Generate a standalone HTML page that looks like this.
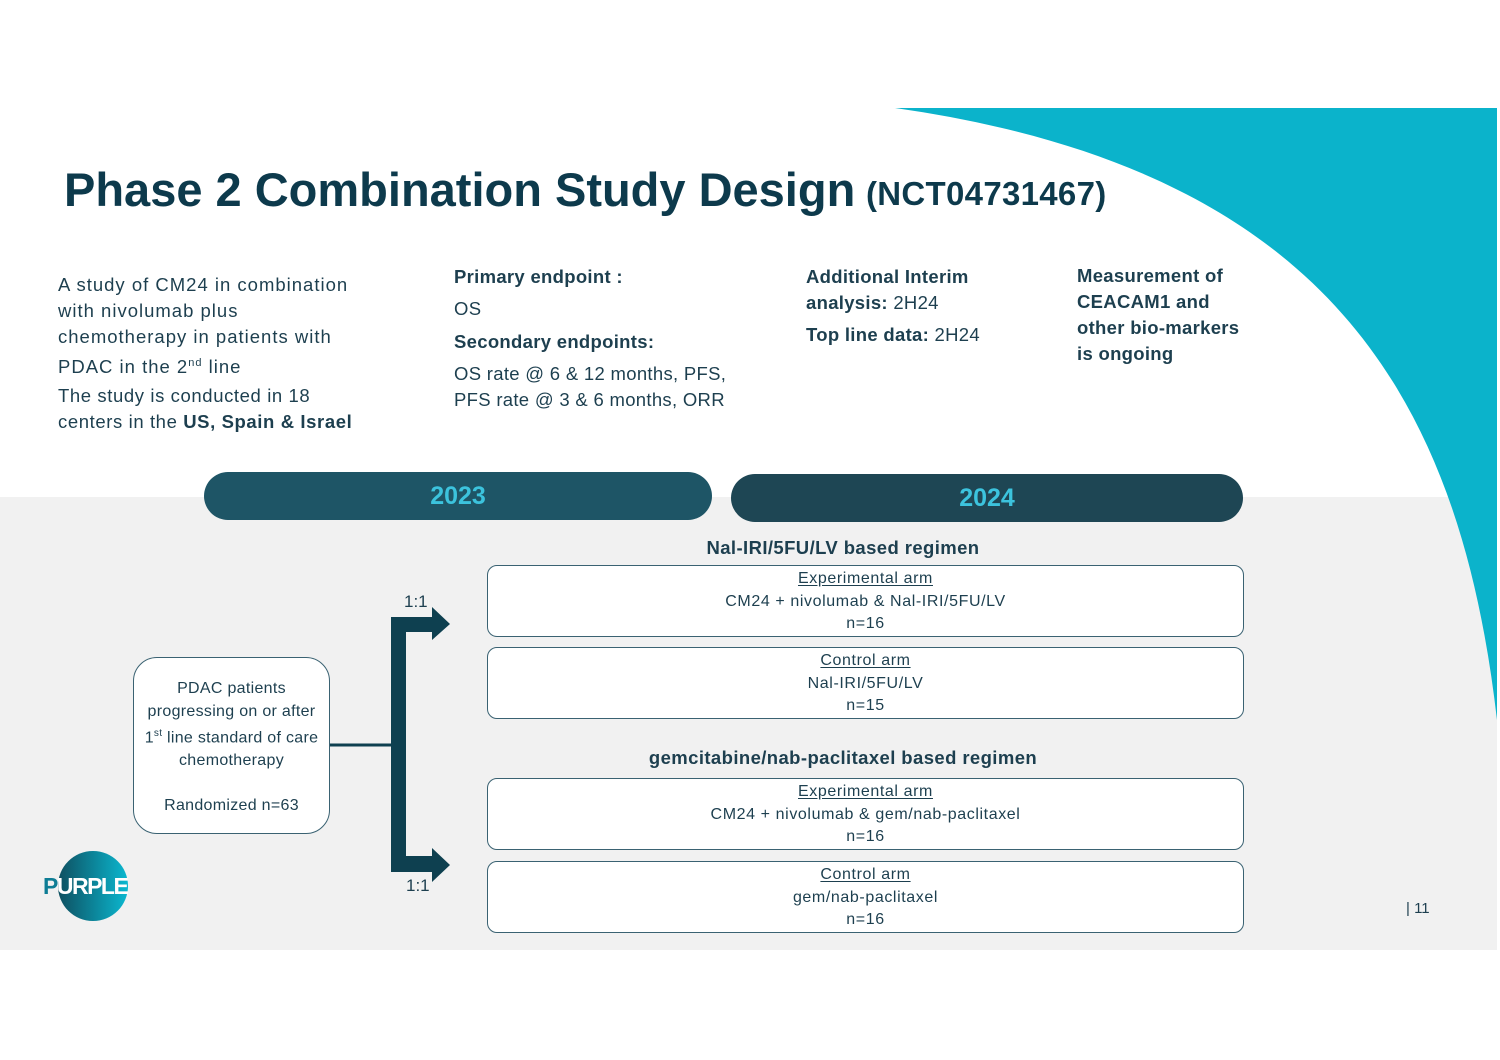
<!DOCTYPE html>
<html><head><meta charset="utf-8"><style>
*{margin:0;padding:0;box-sizing:border-box}
body{width:1500px;height:1060px;background:#fff;position:relative;overflow:hidden;font-family:"Liberation Sans",sans-serif;color:#1d3f4f}
.a{position:absolute;white-space:nowrap}
.t{font-size:18.5px;line-height:26px;letter-spacing:0.3px}
.b{font-weight:bold}
.box{position:absolute;left:487px;width:757px;height:72px;border:1.5px solid #3a6272;border-radius:10px;background:#fff;text-align:center;font-size:16px;line-height:22.5px;padding-top:2px;letter-spacing:0.6px}
.box u{text-underline-offset:2px}
.hd{position:absolute;left:487px;width:712px;text-align:center;font-weight:bold;font-size:18.5px;letter-spacing:0.4px}
</style></head><body>
<div class="a" style="left:0;top:497px;width:1497px;height:453px;background:#f1f1f1"></div>
<svg class="a" style="left:0;top:0" width="1500" height="1060">
<path d="M895,108 L1497,108 L1497,720 C1460,400 1330,170 895,108 Z" fill="#0bb3cb"/>
<path d="M731,474 H1219 a24,24 0 0 1 0,48 H755 a24,24 0 0 1 0,-48 Z" fill="#1e4654"/>
<path d="M228,472 H688 a24,24 0 0 1 0,48 H228 a24,24 0 0 1 0,-48 Z" fill="#1e5566"/>
<line x1="330" y1="745" x2="394" y2="745" stroke="#0e4050" stroke-width="3"/>
<path d="M391,617 H432 V607 L450,624 L432,640 V632 H406 V856 H432 V848 L450,865 L432,882 V872 H391 Z" fill="#0e4050"/>
<defs><linearGradient id="g" x1="0" x2="1"><stop offset="0" stop-color="#0e4f60"/><stop offset="1" stop-color="#0bb8d0"/></linearGradient></defs>
<circle cx="93" cy="886" r="35" fill="url(#g)"/>
</svg>
<div class="a b" style="left:64px;top:162px;font-size:47px;letter-spacing:0;color:#0d3a4c">Phase 2 Combination Study Design</div>
<div class="a b" style="left:866px;top:175px;font-size:33px;letter-spacing:0.3px;color:#0d3a4c">(NCT04731467)</div>

<div class="a t" style="left:58px;top:272px;letter-spacing:1px">A study of CM24 in combination<br>with nivolumab plus<br>chemotherapy in patients with<br>PDAC in the 2<sup style="font-size:11px">nd</sup> line</div>
<div class="a t" style="left:58px;top:383px;letter-spacing:0.6px">The study is conducted in 18<br>centers in the <b>US, Spain &amp; Israel</b></div>
<div class="a t b" style="left:454px;top:264px">Primary endpoint :</div>
<div class="a t" style="left:454px;top:296px">OS</div>
<div class="a t b" style="left:454px;top:329px">Secondary endpoints:</div>
<div class="a t" style="left:454px;top:361px">OS rate @ 6 &amp; 12 months, PFS,<br>PFS rate @ 3 &amp; 6 months, ORR</div>
<div class="a t" style="left:806px;top:264px"><b>Additional Interim<br>analysis:</b> 2H24</div>
<div class="a t" style="left:806px;top:322px"><b>Top line data:</b> 2H24</div>
<div class="a t b" style="left:1077px;top:263px">Measurement of<br>CEACAM1 and<br>other bio-markers<br>is ongoing</div>

<div class="a b" style="left:228px;top:482px;width:460px;text-align:center;font-size:25px;color:#3cc3dd">2023</div>
<div class="a b" style="left:731px;top:484px;width:512px;text-align:center;font-size:25px;color:#3cc3dd">2024</div>

<div class="hd" style="top:537px">Nal-IRI/5FU/LV based regimen</div>
<div class="box" style="top:565px"><u>Experimental arm</u><br>CM24 + nivolumab &amp; Nal-IRI/5FU/LV<br>n=16</div>
<div class="box" style="top:647px"><u>Control arm</u><br>Nal-IRI/5FU/LV<br>n=15</div>
<div class="hd" style="top:747px">gemcitabine/nab-paclitaxel based regimen</div>
<div class="box" style="top:778px"><u>Experimental arm</u><br>CM24 + nivolumab &amp; gem/nab-paclitaxel<br>n=16</div>
<div class="box" style="top:861px"><u>Control arm</u><br>gem/nab-paclitaxel<br>n=16</div>

<div class="a" style="left:133px;top:657px;width:197px;height:177px;border:1.5px solid #3a6272;border-radius:24px;background:#fff;text-align:center;font-size:16px;line-height:22.5px;padding-top:20px;letter-spacing:0.3px">PDAC patients<br>progressing on or after<br>1<sup style="font-size:10px">st</sup> line standard of care<br>chemotherapy<br><br>Randomized n=63</div>

<div class="a" style="left:404px;top:592px;font-size:17px">1:1</div>
<div class="a" style="left:406px;top:876px;font-size:17px">1:1</div>
<div class="a b" style="left:43px;top:873px;font-size:23px;letter-spacing:-1.5px;color:#0e7d95">P<span style="color:#fff">URPLE</span></div>
<div class="a" style="left:1406px;top:900px;font-size:15px">| 11</div>
</body></html>
